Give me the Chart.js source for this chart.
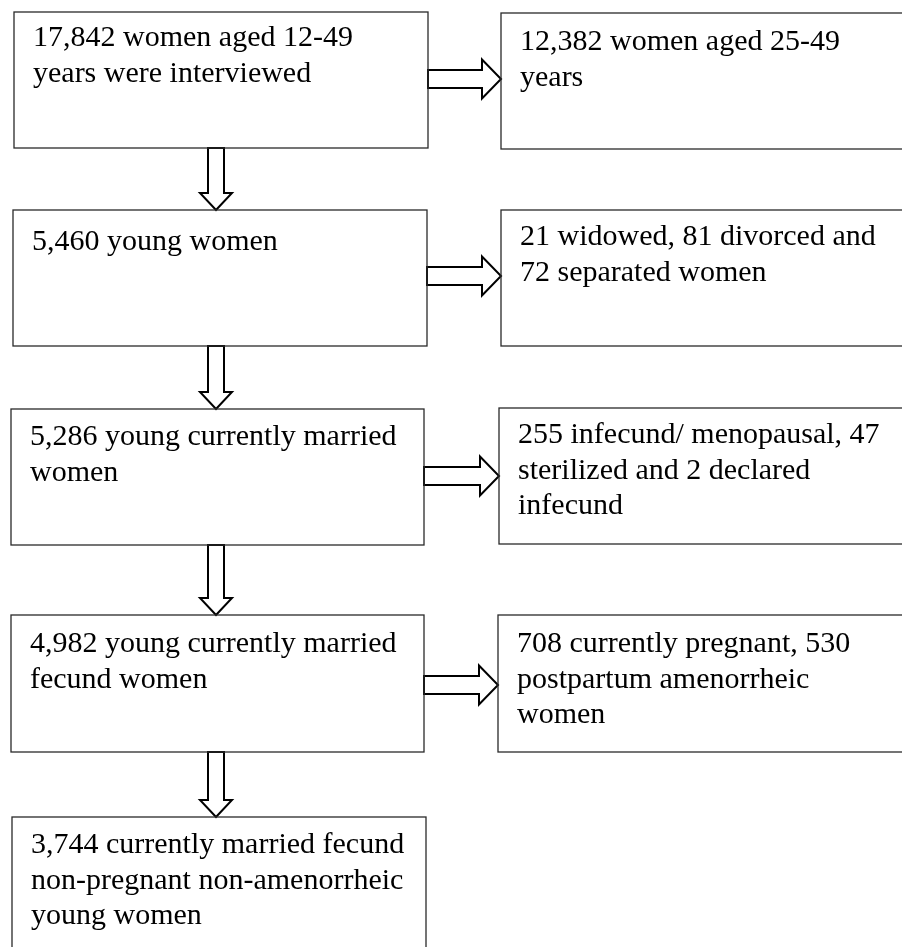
<!DOCTYPE html>
<html>
<head>
<meta charset="utf-8">
<script src="https://cdn.jsdelivr.net/npm/chart.js@4.4.0/dist/chart.umd.min.js"></script>
<style>
  html, body { margin: 0; padding: 0; background: #fff; overflow: hidden; }
  #wrap { width: 902px; height: 947px; }
</style>
</head>
<body>
<div id="wrap"><canvas id="flow"></canvas></div>
<script>
// women kept at each step of the selection
const steps = [
  ['17,842 women aged 12-49', 'years were interviewed'],
  ['5,460 young women'],
  ['5,286 young currently married', 'women'],
  ['4,982 young currently married', 'fecund women'],
  ['3,744 currently married fecund', 'non-pregnant non-amenorrheic', 'young women'],
]

// women dropped at each step
const excluded = [
  ['12,382 women aged 25-49', 'years'],
  ['21 widowed, 81 divorced and', '72 separated women'],
  ['255 infecund/ menopausal, 47', 'sterilized and 2 declared', 'infecund'],
  ['708 currently pregnant, 530', 'postpartum amenorrheic', 'women'],
]

// box layout, page units (x 0-902, y 0-947 from the top)
const leftBoxes = [
  { x0: 14, x1: 428, y0: 12, y1: 148, base: 34 },
  { x0: 13, x1: 427, y0: 210, y1: 346, base: 40 },
  { x0: 11, x1: 424, y0: 409, y1: 545, base: 36 },
  { x0: 11, x1: 424, y0: 615, y1: 752, base: 37 },
  { x0: 12, x1: 426, y0: 817, y1: 960, base: 36 },
]
const rightBoxes = [
  { x0: 501, x1: 910, y0: 13, y1: 149, base: 37 },
  { x0: 501, x1: 910, y0: 210, y1: 346, base: 35 },
  { x0: 499, x1: 910, y0: 408, y1: 544, base: 35 },
  { x0: 498, x1: 910, y0: 615, y1: 752, base: 37 },
]
const downArrowX = 216
const sideArrowDrop = [67, 66, 67, 70]
const lineGap = 35.5
const padLeft = 19

const flowPlugin = {
  id: 'flow',
  afterDraw(chart) {
    const { ctx, scales: { x, y } } = chart
    const px = v => x.getPixelForValue(v)
    const py = v => y.getPixelForValue(v)

    const drawBox = (b, lines) => {
      ctx.save()
      ctx.strokeStyle = '#2a2a2a'
      ctx.lineWidth = 1.3
      ctx.strokeRect(px(b.x0), py(b.y0), px(b.x1) - px(b.x0), py(b.y1) - py(b.y0))
      ctx.fillStyle = '#000'
      ctx.font = '30px "Liberation Serif", "Times New Roman", serif'
      ctx.textBaseline = 'alphabetic'
      lines.forEach((t, i) => {
        ctx.fillText(t, px(b.x0 + padLeft), py(b.y0 + b.base + i * lineGap))
      })
      ctx.restore()
    }

    const drawArrow = pts => {
      ctx.save()
      ctx.beginPath()
      pts.forEach(([a, b], i) => (i ? ctx.lineTo(px(a), py(b)) : ctx.moveTo(px(a), py(b))))
      ctx.closePath()
      ctx.fillStyle = '#fff'
      ctx.fill()
      ctx.strokeStyle = '#000'
      ctx.lineWidth = 2
      ctx.lineJoin = 'miter'
      ctx.stroke()
      ctx.restore()
    }

    // down arrows between the kept boxes
    for (let i = 0; i < leftBoxes.length - 1; i++) {
      const top = leftBoxes[i].y1
      const tip = leftBoxes[i + 1].y0
      const hb = tip - 17
      const c = downArrowX
      drawArrow([[c - 8, top], [c + 8, top], [c + 8, hb], [c + 16, hb], [c, tip], [c - 16, hb], [c - 8, hb]])
    }

    // side arrows to the excluded boxes
    rightBoxes.forEach((r, i) => {
      const l = leftBoxes[i]
      const cy = l.y0 + sideArrowDrop[i]
      const hx = r.x0 - 19
      drawArrow([[l.x1, cy - 9], [hx, cy - 9], [hx, cy - 19.5], [r.x0, cy], [hx, cy + 19.5], [hx, cy + 9], [l.x1, cy + 9]])
    })

    leftBoxes.forEach((b, i) => drawBox(b, steps[i]))
    rightBoxes.forEach((b, i) => drawBox(b, excluded[i]))
  },
}

new Chart(document.getElementById('flow'), {
  type: 'scatter',
  data: { datasets: [{ data: [], pointRadius: 0 }] },
  options: {
    responsive: true,
    maintainAspectRatio: false,
    animation: false,
    layout: { padding: 0 },
    plugins: { legend: { display: false }, tooltip: { enabled: false } },
    scales: {
      x: { type: 'linear', min: 0, max: 902, display: false },
      y: { type: 'linear', min: 0, max: 947, reverse: true, display: false },
    },
  },
  plugins: [flowPlugin],
})
</script>
</body>
</html>
